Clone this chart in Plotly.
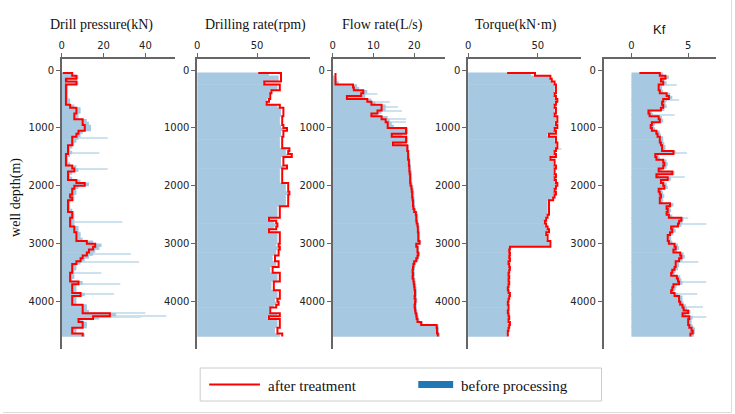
import plotly.graph_objects as go

# ---------------- data ----------------
# depth grid (m): first entry is the start point of each processed curve
depth = list(range(50, 4601, 50))
bar_depth = depth[1:]
depth_ticks = [0, 1000, 2000, 3000, 4000]

titles = ["Drill pressure(kN)", "Drilling rate(rpm)", "Flow rate(L/s)", "Torque(kN·m)", "Kf"]

# after treatment (red curves)
pressure_after = [0.5,
    5, 7, 2, 7, 2, 2, 2, 2, 2, 2,
    2, 4, 7, 7, 6, 6, 10, 10, 11, 11,
    8, 7, 5, 5, 5, 3, 3, 3, 2, 2,
    2, 2, 5, 6, 3, 3, 3, 7, 11, 6,
    5, 5, 4, 5, 3, 3, 3, 3, 5, 5,
    4, 4, 4, 6, 6, 7, 7, 7, 12, 16,
    15, 13, 12, 10, 9, 7, 5, 5, 5, 4,
    4, 4, 8, 5, 5, 5, 9, 5, 5, 5,
    10, 10, 10, 23, 15, 8, 10, 10, 5, 5,
    10]
rate_after = [51,
    70, 70, 70, 56, 69, 69, 62, 61, 61, 60,
    58, 69, 72, 72, 72, 71, 71, 71, 72, 75,
    72, 72, 71, 71, 71, 71, 77, 76, 79, 72,
    72, 72, 75, 71, 71, 71, 71, 71, 76, 76,
    76, 77, 76, 76, 76, 76, 69, 69, 69, 69,
    60, 66, 67, 66, 60, 69, 69, 69, 69, 68,
    69, 68, 68, 65, 65, 68, 68, 63, 63, 69,
    69, 69, 64, 64, 64, 69, 69, 69, 67, 68,
    66, 61, 61, 69, 60, 69, 69, 69, 67, 67,
    71]
flow_after = [0.7,
    0.7, 0.7, 0.7, 0.7, 5, 5.2, 7.5, 7, 3.5, 8.5,
    9.5, 12, 12, 11, 9.5, 12, 13, 13.5, 13.5, 18,
    18, 14.5, 18, 18, 14.8, 18.3, 18.3, 18.5, 18.5, 18.5,
    18.7, 18.7, 18.8, 18.8, 18.9, 19, 19, 19, 19.1, 19.3,
    19.4, 19.5, 19.5, 19.6, 19.7, 19.7, 19.8, 20, 20.4, 20.5,
    20.5, 20.6, 20.8, 20.9, 20.9, 21, 21, 21, 21.3, 20.5,
    20.8, 20.8, 21, 20.8, 20.5, 20, 19.8, 19.7, 19.6, 19.7,
    19.6, 19.8, 19.9, 20, 20.1, 20.2, 20.2, 20.1, 20.3, 20.2,
    20.1, 20.2, 20.3, 20.5, 20.6, 20.8, 21.7, 25.5, 25.6, 25.6,
    25.8]
torque_after = [28,
    48, 59, 60, 62, 63, 63, 63, 62, 63, 64,
    63, 62, 63, 63, 62, 64, 64, 63, 64, 62,
    63, 58, 63, 63, 64, 64, 63, 62, 63, 59,
    62, 62, 63, 62, 62, 63, 62, 63, 64, 63,
    62, 63, 62, 61, 58, 58, 58, 58, 58, 57,
    56, 55, 56, 57, 58, 56, 57, 57, 59, 59,
    30, 29.5, 30, 29.5, 30, 29, 29.5, 30, 29.5, 29,
    29.5, 29, 29.5, 29, 28.5, 29, 30, 29.5, 29, 28.5,
    29, 29, 28.5, 29, 29.5, 29, 30, 29.5, 29, 28.5,
    28.5]
kf_after = [0.7,
    2.5, 3.0, 2.6, 2.8, 2.4, 2.4, 2.5, 3.1, 3.3, 2.8,
    2.7, 2.8, 2.6, 1.5, 1.6, 2.4, 2.5, 1.8, 1.7, 1.8,
    2.2, 2.3, 2.5, 2.5, 2.6, 2.7, 2.7, 3.7, 2.1, 2.2,
    2.8, 2.9, 2.8, 2.4, 3.6, 2.2, 3.2, 2.6, 2.8, 2.9,
    2.4, 2.5, 2.6, 2.5, 2.5, 3.4, 3.1, 3.2, 3.1, 3.3,
    4.4, 4.2, 4.1, 3.5, 3.6, 3.4, 3.2, 3.2, 3.3, 3.8,
    3.9, 3.7, 4.3, 4.4, 4.2, 3.9, 3.9, 3.8, 3.6, 3.5,
    4.0, 4.1, 4.2, 3.7, 3.6, 3.5, 3.8, 4.2, 4.2, 4.3,
    4.5, 4.6, 5.0, 4.5, 5.1, 5.0, 5.0, 5.1, 5.3, 5.4,
    5.2]

# before processing (blue bars), one value per 50 m interval ending at bar_depth
pressure_before = [
    5, 8, 3, 8, 3, 3, 3, 3, 3, 4,
    4, 6, 9, 9, 8, 8, 12, 13, 14, 14,
    10, 9, 8, 7, 6, 5, 4, 5, 4, 3,
    3, 4, 7, 8, 5, 4, 5, 9, 13, 8,
    7, 7, 6, 6, 4, 4, 4, 5, 6, 6,
    6, 6, 6, 8, 8, 9, 9, 10, 15, 19,
    18, 16, 15, 13, 11, 9, 7, 7, 6, 6,
    6, 5, 10, 7, 7, 7, 11, 7, 7, 7,
    12, 12, 13, 26, 18, 10, 12, 12, 7, 7,
    11]
rate_before = [
    60, 68, 68, 55, 67, 67, 61, 60, 60, 58,
    57, 67, 70, 70, 70, 69, 69, 69, 70, 72,
    70, 70, 69, 69, 69, 69, 74, 74, 76, 70,
    70, 70, 72, 69, 69, 69, 69, 69, 74, 74,
    74, 75, 74, 74, 74, 74, 67, 67, 67, 67,
    59, 64, 65, 64, 59, 67, 67, 67, 67, 66,
    67, 66, 66, 63, 63, 66, 66, 61, 61, 67,
    67, 67, 62, 62, 62, 67, 67, 67, 65, 66,
    64, 60, 60, 67, 59, 67, 67, 67, 65, 65,
    69]
flow_before = [
    0, 0.3, 1, 1.5, 6, 6.5, 8.5, 8, 8, 9.5,
    10.5, 13, 13, 12, 11, 13.5, 14, 14.5, 15, 18.5,
    18.5, 17, 18.5, 18.5, 17, 18.7, 18.7, 18.8, 18.9, 19,
    19.1, 19.1, 19.2, 19.3, 19.4, 19.4, 19.5, 19.5, 19.6, 19.8,
    19.9, 20, 20, 20.1, 20.2, 20.2, 20.3, 20.5, 20.8, 21,
    21, 21, 21.2, 21.3, 21.3, 21.4, 21.4, 21.4, 21.7, 21,
    21.2, 21.2, 21.4, 21.2, 21, 20.5, 20.3, 20.2, 20.1, 20.2,
    20.1, 20.3, 20.4, 20.5, 20.6, 20.7, 20.7, 20.6, 20.8, 20.7,
    20.6, 20.7, 20.8, 21, 21.1, 21.3, 22.2, 26, 26.1, 26.1,
    26.3]
torque_before = [
    45, 58, 59, 61, 62, 62, 62, 61, 62, 63,
    62, 61, 62, 62, 61, 63, 63, 62, 63, 61,
    62, 57, 62, 62, 63, 63, 62, 61, 62, 58,
    61, 61, 62, 61, 61, 62, 61, 62, 63, 62,
    61, 62, 61, 60, 57, 57, 57, 57, 57, 56,
    55, 54, 55, 56, 57, 55, 56, 56, 58, 58,
    29.5, 29, 29.5, 29, 29.5, 28.5, 29, 29.5, 29, 28.5,
    29, 28.5, 29, 28.5, 28, 28.5, 29.5, 29, 28.5, 28,
    28.5, 28.5, 28, 28.5, 29, 28.5, 29.5, 29, 28.5, 28,
    28]
kf_before = [
    2.8, 3.3, 2.9, 3.1, 2.7, 2.7, 2.8, 3.4, 3.6, 3.1,
    3.0, 3.1, 2.9, 1.8, 1.9, 2.7, 2.8, 2.1, 2.0, 2.1,
    2.5, 2.6, 2.8, 2.8, 2.9, 3.0, 3.0, 3.9, 2.4, 2.5,
    3.1, 3.2, 3.1, 2.7, 3.8, 2.5, 3.5, 2.9, 3.1, 3.2,
    2.7, 2.8, 2.9, 2.8, 2.8, 3.7, 3.4, 3.5, 3.4, 3.6,
    4.6, 4.5, 4.4, 3.8, 3.9, 3.7, 3.5, 3.5, 3.6, 4.1,
    4.2, 4.0, 4.6, 4.7, 4.5, 4.2, 4.2, 4.1, 3.9, 3.8,
    4.3, 4.4, 4.5, 4.0, 3.9, 3.8, 4.1, 4.5, 4.5, 4.6,
    4.8, 4.9, 5.2, 4.8, 5.4, 5.3, 5.3, 5.4, 5.6, 5.6,
    5.5]

# isolated raw outliers (before processing)
pressure_spike_depth = [1180, 1440, 1710, 2630, 3170, 3310, 3510, 3700, 3860, 4200, 4240, 4270]
pressure_spike_value = [22, 18, 22, 29, 33, 37, 19, 28, 25, 40, 50, 38]
rate_spike_depth = []
rate_spike_value = []
flow_spike_depth = [420, 560, 640, 700, 850, 900]
flow_spike_value = [11, 14, 16, 17, 18, 18]
torque_spike_depth = [1370]
torque_spike_value = [67]
kf_spike_depth = [260, 520, 780, 1440, 1840, 2560, 2650, 3310, 3655, 3860, 4090, 4260, 4430]
kf_spike_value = [4.0, 4.2, 3.8, 4.9, 4.7, 5.0, 6.6, 5.9, 6.6, 5.8, 6.3, 6.6, 5.5]

after = [pressure_after, rate_after, flow_after, torque_after, kf_after]
before = [pressure_before, rate_before, flow_before, torque_before, kf_before]
spike_d = [pressure_spike_depth, rate_spike_depth, flow_spike_depth, torque_spike_depth, kf_spike_depth]
spike_v = [pressure_spike_value, rate_spike_value, flow_spike_value, torque_spike_value, kf_spike_value]
for a, b in zip(after, before):
    assert len(a) == len(depth), len(a)
    assert len(b) == len(bar_depth), len(b)

# ---------------- layout geometry ----------------
W, H = 735, 414
def fx(p): return p / W
def fy(p): return 1 - p / H

x_px = [(59, 173), (195, 308), (331, 444), (467, 580), (603, 716)]
x_ranges = [[0, 54.3], [0, 94], [0, 27.6], [0, 80.7], [-2.46, 7.46]]
x_ticks = [[0, 20, 40], [0, 50], [0, 10, 20], [0, 50], [0, 5]]
title_cx = [98.5, 253.5, 381, 515, 659]
plot_top, plot_bot = 59, 349
y_range = [4816, -190]

BLUE = "#1f77b4"
FILL = "rgb(166,200,224)"
AX = "#666666"
tick_font = dict(family="DejaVu Sans", size=10, color="#222222")

fig = go.Figure()
layout = dict(width=W, height=H, margin=dict(l=0, r=0, t=0, b=0),
              paper_bgcolor="white", plot_bgcolor="white",
              barmode="overlay", showlegend=False)
annotations = []
shapes = []

for i in range(5):
    k = "" if i == 0 else str(i + 1)
    xa, ya = "x" + k, "y" + k
    if spike_d[i]:
        fig.add_trace(go.Bar(x=spike_v[i], y=spike_d[i], orientation="h", width=18,
                             marker=dict(color=BLUE, line=dict(width=0)), opacity=0.22,
                             xaxis=xa, yaxis=ya, hoverinfo="skip"))
    fig.add_trace(go.Bar(x=before[i], y=bar_depth, orientation="h", width=62, offset=-56,
                         marker=dict(color=FILL, line=dict(width=0)),
                         xaxis=xa, yaxis=ya, hoverinfo="skip"))
    fig.add_trace(go.Scatter(x=after[i], y=depth, mode="lines",
                             line=dict(color="#ff0000", width=2, shape="hv"),
                             xaxis=xa, yaxis=ya))
    layout["xaxis" + k] = dict(domain=[fx(x_px[i][0]), fx(x_px[i][1])], range=x_ranges[i],
                               side="top", anchor=ya, showline=True, linecolor=AX, linewidth=1.5,
                               ticks="outside", ticklen=4, tickcolor=AX, tickwidth=1,
                               tickvals=x_ticks[i], showgrid=False, zeroline=False,
                               tickfont=tick_font, fixedrange=True)
    layout["yaxis" + k] = dict(domain=[fy(plot_bot), fy(plot_top)], range=y_range,
                               anchor=xa, showline=True, linecolor=AX, linewidth=1.5,
                               ticks="outside", ticklen=4, tickcolor=AX, tickwidth=1,
                               tickvals=depth_ticks, showgrid=False, zeroline=False,
                               tickfont=tick_font, fixedrange=True)
    if i < 4:
        annotations.append(dict(text=titles[i], x=fx(title_cx[i]), y=fy(25), xref="paper", yref="paper",
                                showarrow=False, xanchor="center", yanchor="middle",
                                font=dict(family="Liberation Serif", size=14, color="#111111")))
    else:
        annotations.append(dict(text=titles[i], x=fx(title_cx[i]), y=fy(30), xref="paper", yref="paper",
                                showarrow=False, xanchor="center", yanchor="middle",
                                font=dict(family="Liberation Sans", size=13, color="#111111")))

annotations.append(dict(text="well depth(m)", x=fx(13), y=fy(197), xref="paper", yref="paper",
                        showarrow=False, textangle=-90, xanchor="center", yanchor="middle",
                        font=dict(family="Liberation Serif", size=14, color="#111111")))

# legend (drawn manually)
shapes.append(dict(type="rect", xref="paper", yref="paper", x0=fx(198), x1=fx(601), y0=fy(401), y1=fy(368),
                   line=dict(color="#cccccc", width=1), fillcolor="white"))
shapes.append(dict(type="line", xref="paper", yref="paper", x0=fx(207), x1=fx(258), y0=fy(384.5), y1=fy(384.5),
                   line=dict(color="#ff0000", width=2)))
shapes.append(dict(type="rect", xref="paper", yref="paper", x0=fx(417), x1=fx(452), y0=fy(388), y1=fy(381),
                   line=dict(width=0), fillcolor=BLUE))
annotations.append(dict(text="after treatment", x=fx(264), y=fy(386), xref="paper", yref="paper",
                        showarrow=False, xanchor="left", yanchor="middle",
                        font=dict(family="Liberation Serif", size=15, color="#111111")))
annotations.append(dict(text="before processing", x=fx(458), y=fy(386), xref="paper", yref="paper",
                        showarrow=False, xanchor="left", yanchor="middle",
                        font=dict(family="Liberation Serif", size=15, color="#111111")))
# image frame
shapes.append(dict(type="line", xref="paper", yref="paper", x0=fx(731.5), x1=fx(731.5), y0=fy(412.5), y1=fy(0),
                   line=dict(color="#dddddd", width=1)))
shapes.append(dict(type="line", xref="paper", yref="paper", x0=fx(0), x1=fx(731.5), y0=fy(412.5), y1=fy(412.5),
                   line=dict(color="#dddddd", width=1)))

layout["annotations"] = annotations
layout["shapes"] = shapes
fig.update_layout(**layout)
fig.write_html("out.html", config={"displayModeBar": False})
